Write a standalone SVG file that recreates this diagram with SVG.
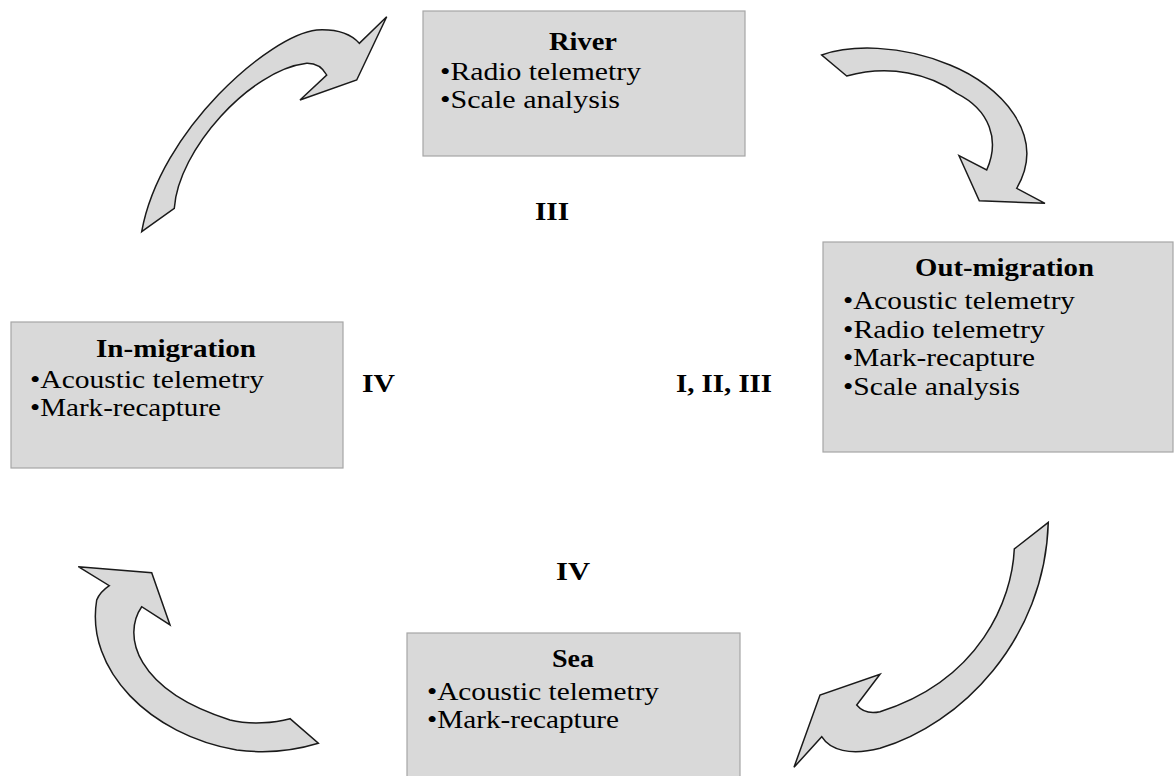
<svg xmlns="http://www.w3.org/2000/svg" width="1176" height="776" viewBox="0 0 1176 776">
<style>
.box{fill:#d9d9d9;stroke:#a6a6a6;stroke-width:1.2}
.t{font-family:"Liberation Serif","Times New Roman",serif;font-size:26px;fill:#000}
.b{font-weight:bold}
.arr{fill:#d9d9d9;stroke:#1a1a1a;stroke-width:1.5;stroke-linejoin:miter}
</style>
<rect width="1176" height="776" fill="#fff"/>
<g id="connectors">
<path class="arr" d="M 141.7,231.7 L 174.3,208.3 C 178,150 250,70 306.7,63.3 Q 320,63 326.7,75 L 300,100 L 356.7,80 L 386.7,16.7 L 359.3,43.3 C 350,33 335,29 316.7,30 C 270,35 160,130 141.7,231.7 Z"/>
<path class="arr" d="M 821.7,55 C 850,45 900,44 950,65 C 1000,85 1048,135 1016.7,188.3 L 1045,203.3 L 979.3,200.7 L 959,155.7 L 986.7,170 C 1000,140 990,110 956.7,93.3 C 930,74 890,64 846.7,76 Z"/>
<path class="arr" d="M 1048.3,522.3 L 1014.3,549 C 1012,600 980,680 880,711.7 Q 865,715 856.7,705 L 880,674.3 L 820,695 L 794,767.3 L 821.7,736.7 C 830,750 850,756 880,748.3 C 960,725 1045,640 1048.3,522.3 Z"/>
<path class="arr" d="M 78.3,566.7 L 151.7,572.7 L 170,625 L 141.7,606.7 C 122,635 135,690 230,720 C 250,725 275,723 290,718.7 L 318.3,743.3 C 290,752 260,753 236.7,750 C 150,735 85,670 96.7,600 Q 100,592 109.3,585.7 Z"/>
</g>
<g id="river">
<rect class="box" x="423" y="11" width="322" height="145"/>
<text class="t b" x="549" y="50" textLength="68" lengthAdjust="spacingAndGlyphs">River</text>
<text class="t" x="440" y="80" textLength="201" lengthAdjust="spacingAndGlyphs">•Radio telemetry</text>
<text class="t" x="440" y="108" textLength="180" lengthAdjust="spacingAndGlyphs">•Scale analysis</text>
</g>
<g id="out-migration">
<rect class="box" x="823" y="242" width="350" height="210"/>
<text class="t b" x="915" y="276" textLength="179" lengthAdjust="spacingAndGlyphs">Out-migration</text>
<text class="t" x="843" y="309" textLength="232" lengthAdjust="spacingAndGlyphs">•Acoustic telemetry</text>
<text class="t" x="843" y="338" textLength="202" lengthAdjust="spacingAndGlyphs">•Radio telemetry</text>
<text class="t" x="843" y="366" textLength="192" lengthAdjust="spacingAndGlyphs">•Mark-recapture</text>
<text class="t" x="843" y="395" textLength="177" lengthAdjust="spacingAndGlyphs">•Scale analysis</text>
</g>
<g id="sea">
<rect class="box" x="407" y="633" width="333" height="160"/>
<text class="t b" x="552" y="667" textLength="42" lengthAdjust="spacingAndGlyphs">Sea</text>
<text class="t" x="427" y="700" textLength="232" lengthAdjust="spacingAndGlyphs">•Acoustic telemetry</text>
<text class="t" x="427" y="728" textLength="192" lengthAdjust="spacingAndGlyphs">•Mark-recapture</text>
</g>
<g id="in-migration">
<rect class="box" x="11" y="322" width="332" height="146"/>
<text class="t b" x="96" y="357" textLength="160" lengthAdjust="spacingAndGlyphs">In-migration</text>
<text class="t" x="30" y="388" textLength="234" lengthAdjust="spacingAndGlyphs">•Acoustic telemetry</text>
<text class="t" x="30" y="416" textLength="191" lengthAdjust="spacingAndGlyphs">•Mark-recapture</text>
</g>
<g id="labels">
<text class="t b" x="535" y="220" textLength="34" lengthAdjust="spacingAndGlyphs">III</text>
<text class="t b" x="362" y="392" textLength="33" lengthAdjust="spacingAndGlyphs">IV</text>
<text class="t b" x="676" y="392" textLength="96" lengthAdjust="spacingAndGlyphs">I, II, III</text>
<text class="t b" x="556" y="580" textLength="34" lengthAdjust="spacingAndGlyphs">IV</text>
</g>
</svg>
